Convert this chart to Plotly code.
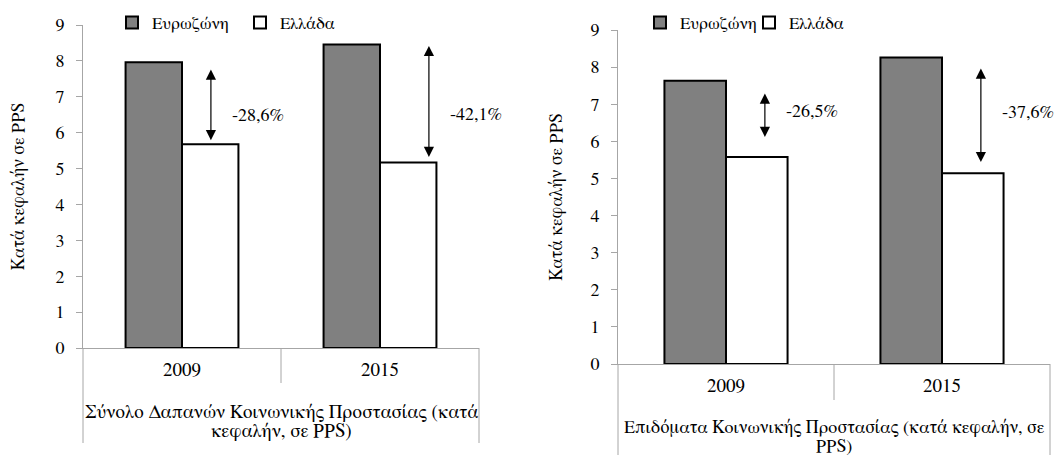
import plotly.graph_objects as go
from plotly.subplots import make_subplots

# ---- data ----
years = ["2009", "2015"]
series_names = ["Ευρωζώνη", "Ελλάδα"]
total_euro = [7.96, 8.46]
total_greece = [5.68, 5.17]
benef_euro = [7.63, 8.26]
benef_greece = [5.58, 5.14]
total_pct = ["-28,6%", "-42,1%"]
benef_pct = ["-26,5%", "-37,6%"]
# arrow spans (top, bottom) and label levels, in PPS units
total_arrows = [(7.8, 5.79), (8.46, 5.32)]
benef_arrows = [(7.33, 6.12), (8.0, 5.44)]
total_label_y = [6.46, 6.49]
benef_label_y = [6.79, 6.77]
y_title = "Κατά κεφαλήν σε PPS"
total_title_lines = ["Σύνολο Δαπανών Κοινωνικής Προστασίας (κατά", "κεφαλήν, σε PPS)"]
benef_title_lines = ["Επιδόματα Κοινωνικής Προστασίας (κατά κεφαλήν, σε", "PPS)"]

W, H = 1056, 455
FONT = "FreeSerif, Liberation Serif, Times New Roman, serif"
AXC = "#a6a6a6"

fig = make_subplots(rows=1, cols=2)

xpos = list(range(len(years)))

panels = [
    dict(euro=total_euro, gr=total_greece, pct=total_pct, arrows=total_arrows,
         labels_y=total_label_y, title_lines=total_title_lines, title_px=[412, 431],
         title_size=19,
         xd=(83 / W, 479 / W), yd=(1 - 348 / H, 1 - 25 / H), col=1,
         arrow_dx=[0.146, 0.247], legend="legend", ext=95, div=35, standoff=26),
    dict(euro=benef_euro, gr=benef_greece, pct=benef_pct, arrows=benef_arrows,
         labels_y=benef_label_y, title_lines=benef_title_lines, title_px=[427, 447],
         title_size=18,
         xd=(618 / W, 1050 / W), yd=(1 - 364 / H, 1 - 30 / H), col=2,
         arrow_dx=[0.18, 0.18], legend="legend2", ext=91, div=36, standoff=23),
]

for p in panels:
    c = p["col"]
    fig.add_trace(go.Bar(x=xpos, y=p["euro"], name=series_names[0],
                         marker=dict(color="#808080", line=dict(color="#000000", width=2)),
                         legend=p["legend"], hoverinfo="skip"), row=1, col=c)
    fig.add_trace(go.Bar(x=xpos, y=p["gr"], name=series_names[1],
                         marker=dict(color="#ffffff", line=dict(color="#000000", width=2)),
                         legend=p["legend"], hoverinfo="skip"), row=1, col=c)
    xa = "x" if c == 1 else "x2"
    ya = "y" if c == 1 else "y2"
    for i, (top, bot) in enumerate(p["arrows"]):
        ax_x = xpos[i] + p["arrow_dx"][i]
        fig.add_annotation(x=ax_x, y=bot, ax=ax_x, ay=top, xref=xa, yref=ya,
                           axref=xa, ayref=ya, text="", showarrow=True,
                           arrowhead=2, startarrowhead=2, arrowside="end+start",
                           arrowsize=1.7, startarrowsize=1.7, arrowwidth=1.2,
                           arrowcolor="#000000")
        fig.add_annotation(x=ax_x, y=p["labels_y"][i], xref=xa, yref=ya,
                           text=p["pct"][i], showarrow=False, xanchor="left",
                           xshift=19,
                           font=dict(family=FONT, size=18, color="#000000"))
    # group title (two lines)
    for line, ypx in zip(p["title_lines"], p["title_px"]):
        fig.add_annotation(x=0.5, y=1 - ypx / H,
                           xref=f"{xa} domain", yref="paper",
                           text=line, showarrow=False,
                           xanchor="center", yanchor="middle",
                           font=dict(family=FONT, size=p["title_size"], color="#000000"))
    # category box lines
    dom_h = (p["yd"][1] - p["yd"][0]) * H
    for xx, ln in [(0, p["ext"]), (0.5, p["div"]), (1, p["ext"])]:
        fig.add_shape(type="line", xref=f"{xa} domain", yref=f"{ya} domain",
                      x0=xx, x1=xx, y0=0, y1=-ln / dom_h,
                      line=dict(color=AXC, width=1))
    fig.update_xaxes(domain=list(p["xd"]), range=[-0.5, 1.5], tickvals=xpos,
                     ticktext=years, showline=True, linecolor=AXC, linewidth=1,
                     ticks="", showgrid=False, zeroline=False, automargin=False,
                     ticklabelstandoff=4,
                     tickfont=dict(family=FONT, size=19, color="#000000"),
                     row=1, col=c)
    fig.update_yaxes(domain=list(p["yd"]), range=[0, 9], dtick=1, tick0=0,
                     showline=True, linecolor=AXC, linewidth=1, ticks="outside",
                     ticklen=6, tickcolor=AXC, showgrid=False, zeroline=False,
                     ticklabelstandoff=8, automargin=False,
                     tickfont=dict(family=FONT, size=18, color="#000000"),
                     title=dict(text=y_title, standoff=p["standoff"],
                                font=dict(family=FONT, size=18, color="#000000")),
                     row=1, col=c)

legend_common = dict(orientation="h", xanchor="left", yanchor="top",
                     font=dict(family=FONT, size=17, color="#000000"),
                     bgcolor="rgba(0,0,0,0)", itemwidth=30,
                     entrywidthmode="pixels", tracegroupgap=0)
fig.update_layout(
    width=W, height=H, margin=dict(l=0, r=0, t=0, b=0, autoexpand=False),
    paper_bgcolor="#ffffff", plot_bgcolor="#ffffff",
    barmode="group", bargap=0.43, bargroupgap=0,
    showlegend=True,
    legend=dict(x=112 / W, y=1 - 5 / H, entrywidth=83, **legend_common),
    legend2=dict(x=640 / W, y=1 - 5 / H, entrywidth=64, **legend_common),
    font=dict(family=FONT, size=17, color="#000000"),
)

fig.write_html("out.html", config={"displayModeBar": False},
               post_script="document.body.style.margin='0px';document.body.style.overflow='hidden';")
